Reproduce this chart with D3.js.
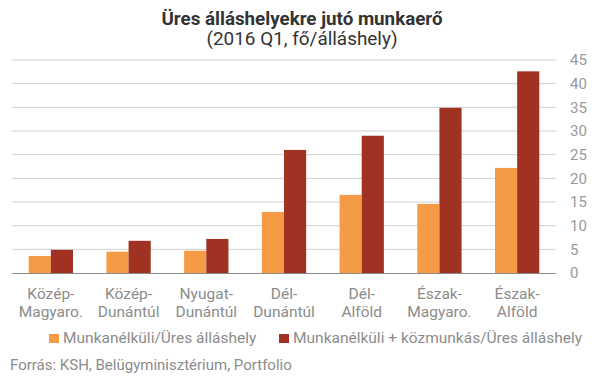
<!DOCTYPE html>
<html>
<head>
<meta charset="utf-8">
<script src="https://cdn.jsdelivr.net/npm/d3@7"></script>
<style>
  body { margin: 0; background: #fff; }
  text { font-family: Roboto, "Noto Sans", sans-serif; }
</style>
</head>
<body>
<div id="chart"></div>
<script>
const regions = [
  ["Közép-", "Magyaro."],
  ["Közép-", "Dunántúl"],
  ["Nyugat-", "Dunántúl"],
  ["Dél-", "Dunántúl"],
  ["Dél-", "Alföld"],
  ["Észak-", "Magyaro."],
  ["Észak-", "Alföld"]
];
const unemployed = [3.6, 4.5, 4.7, 12.9, 16.5, 14.6, 22.2];
const withPublicWork = [4.9, 6.8, 7.2, 26.0, 29.0, 34.9, 42.6];
const yTicks = [0, 5, 10, 15, 20, 25, 30, 35, 40, 45];
const seriesNames = ["Munkanélküli/Üres álláshely", "Munkanélküli + közmunkás/Üres álláshely"];
const colors = ["#F59B46", "#A13122"];

const width = 605, height = 378;
const margin = {top: 60, right: 49, bottom: 105, left: 12};
const w = width - margin.left - margin.right;
const h = height - margin.top - margin.bottom;

const svg = d3.select("#chart").append("svg")
  .attr("width", width)
  .attr("height", height);

svg.append("text")
  .attr("x", 302).attr("y", 25)
  .attr("text-anchor", "middle")
  .attr("font-size", 18).attr("font-weight", "bold")
  .attr("fill", "#333")
  .attr("textLength", 281).attr("lengthAdjust", "spacingAndGlyphs")
  .text("Üres álláshelyekre jutó munkaerő");

svg.append("text")
  .attr("x", 302).attr("y", 45)
  .attr("text-anchor", "middle")
  .attr("font-size", 18)
  .attr("fill", "#333")
  .attr("textLength", 191).attr("lengthAdjust", "spacingAndGlyphs")
  .text("(2016 Q1, fő/álláshely)");

const g = svg.append("g").attr("transform", `translate(${margin.left},${margin.top})`);

const x = d3.scaleBand().domain(d3.range(regions.length)).range([0, w]).paddingInner(0.43).paddingOuter(0.215);
const xs = d3.scaleBand().domain([0, 1]).range([0, x.bandwidth()]);
const y = d3.scaleLinear().domain([0, 45]).range([h, 0]);

g.selectAll(".grid").data(yTicks.filter(d => d > 0)).enter()
  .append("line")
  .attr("x1", 0).attr("x2", w)
  .attr("y1", d => y(d)).attr("y2", d => y(d))
  .attr("stroke", "#d0d0d0").attr("stroke-width", 1);

const yAxis = g.append("g")
  .attr("transform", `translate(${w + 14},0)`)
  .call(d3.axisRight(y).tickValues(yTicks).tickSize(0).tickPadding(0));
yAxis.select(".domain").remove();
yAxis.selectAll("text")
  .attr("font-size", 15).attr("fill", "#999")
  .style("font-family", "Roboto, sans-serif");

[unemployed, withPublicWork].forEach((vals, s) => {
  g.append("g").selectAll("rect").data(vals).enter()
    .append("rect")
    .attr("x", (d, i) => x(i) + xs(s))
    .attr("width", xs.bandwidth())
    .attr("y", d => y(d))
    .attr("height", d => h - y(d))
    .attr("fill", colors[s]);
});

g.append("line")
  .attr("x1", 0).attr("x2", w)
  .attr("y1", h + 0.5).attr("y2", h + 0.5)
  .attr("stroke", "#8a8a8a").attr("stroke-width", 1);

const labels = g.selectAll(".xl").data(regions).enter()
  .append("text")
  .attr("text-anchor", "middle")
  .attr("font-size", 15.5).attr("fill", "#8c8c8c")
  .attr("transform", (d, i) => `translate(${x(i) + x.bandwidth() / 2},${h + 26})`);
labels.append("tspan").attr("x", 0).attr("y", 0).text(d => d[0]);
labels.append("tspan").attr("x", 0).attr("y", 18).text(d => d[1]);

const legendX = [49, 279];
seriesNames.forEach((name, s) => {
  svg.append("rect")
    .attr("x", legendX[s]).attr("y", 334)
    .attr("width", 10).attr("height", 9)
    .attr("fill", colors[s]);
  svg.append("text")
    .attr("x", legendX[s] + 14).attr("y", 343)
    .attr("font-size", 15.5).attr("fill", "#8c8c8c")
    .text(name);
});

svg.append("text")
  .attr("x", 10).attr("y", 370)
  .attr("font-size", 15).attr("fill", "#8c8c8c")
  .text("Forrás: KSH, Belügyminisztérium, Portfolio");
</script>
</body>
</html>
